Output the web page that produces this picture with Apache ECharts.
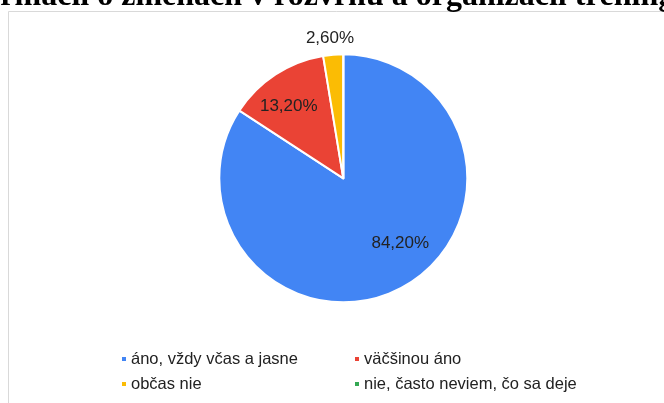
<!DOCTYPE html>
<html>
<head>
<meta charset="utf-8">
<script src="https://cdn.jsdelivr.net/npm/echarts@6/dist/echarts.min.js"></script>
<style>
html,body{margin:0;padding:0;background:#fff;}
#c{width:664px;height:403px;}
</style>
</head>
<body>
<div id="c"></div>
<script>
const titleText = 'informácií o zmenách v rozvrhu a organizácii tréningov';
const categories = ['áno, vždy včas a jasne', 'väčšinou áno', 'občas nie', 'nie, často neviem, čo sa deje'];
const values = [84.2, 13.2, 2.6, 0];
const colors = ['#4285F4', '#EA4335', '#FBBC04', '#34A853'];
const labelShift = [[26, 8], [-19, -18], [-8, -75], [0, 0]];

const chart = echarts.init(document.getElementById('c'), null, {renderer: 'canvas'});
const fmt = v => v.toFixed(2).replace('.', ',') + '%';
const legendText = {fontFamily: 'Liberation Sans, Arial, sans-serif', fontSize: 16.5, color: '#222', lineHeight: 20};
const legendBase = {orient: 'vertical', top: 344, itemWidth: 4, itemHeight: 4, itemGap: 5, icon: 'rect',
  textStyle: legendText, selectedMode: false, itemStyle: {borderWidth: 0}};
chart.setOption({
  backgroundColor: '#fff',
  animation: false,
  color: colors,
  graphic: [
    {type: 'rect', shape: {x: 8.5, y: 11.5, width: 700, height: 500},
     style: {fill: '#fff', stroke: '#d9d9d9', lineWidth: 1}, z: -10},
    {type: 'text', left: -53, top: -19,
     style: {text: titleText, font: 'bold 32px "Liberation Serif", "Times New Roman", serif', fill: '#000'}}
  ],
  legend: [
    Object.assign({left: 117, data: [categories[0], categories[2]]}, legendBase),
    Object.assign({left: 350, data: [categories[1], categories[3]]}, legendBase)
  ],
  series: [{
    type: 'pie',
    center: [343.3, 178.3],
    radius: [0, 124],
    startAngle: 90,
    clockwise: true,
    avoidLabelOverlap: false,
    itemStyle: {borderColor: '#fff', borderWidth: 2},
    label: {
      show: true, position: 'inside',
      fontFamily: 'Liberation Sans, Arial, sans-serif', fontSize: 17, color: '#222',
      formatter: p => fmt(p.value)
    },
    labelLine: {show: false},
    emphasis: {disabled: true},
    labelLayout: p => ({dx: labelShift[p.dataIndex][0], dy: labelShift[p.dataIndex][1]}),
    data: categories.map((n, i) => ({
      name: n, value: values[i],
      label: values[i] > 0 ? undefined : {show: false}
    }))
  }]
});
</script>
</body>
</html>
